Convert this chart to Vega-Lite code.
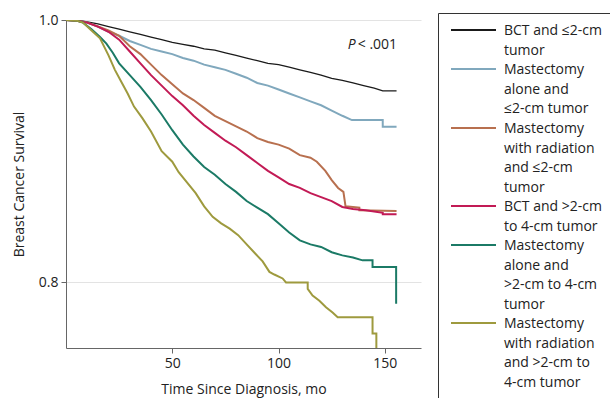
{
  "$schema": "https://vega.github.io/schema/vega-lite/v6.json",
  "width": 355,
  "height": 328,
  "autosize": "none",
  "padding": {"left": 66, "top": 20, "right": 189, "bottom": 50},
  "config": {
    "font": "Open Sans",
    "view": {"stroke": null},
    "axis": {
      "domainColor": "#666666",
      "tickColor": "#666666",
      "tickSize": 5,
      "labelFontSize": 14,
      "labelColor": "#222222",
      "titleFontSize": 14,
      "titleFontWeight": "normal",
      "titleColor": "#222222",
      "gridColor": "#e3e3e3"
    }
  },
  "datasets": {
    "curves": [
      {"t": 0, "s": 1.0, "group": "BCT and ≤2-cm tumor"},
      {"t": 5, "s": 1.0, "group": "BCT and ≤2-cm tumor"},
      {"t": 10, "s": 0.9985, "group": "BCT and ≤2-cm tumor"},
      {"t": 15, "s": 0.997, "group": "BCT and ≤2-cm tumor"},
      {"t": 20, "s": 0.995, "group": "BCT and ≤2-cm tumor"},
      {"t": 25, "s": 0.993, "group": "BCT and ≤2-cm tumor"},
      {"t": 30, "s": 0.991, "group": "BCT and ≤2-cm tumor"},
      {"t": 35, "s": 0.989, "group": "BCT and ≤2-cm tumor"},
      {"t": 40, "s": 0.987, "group": "BCT and ≤2-cm tumor"},
      {"t": 45, "s": 0.985, "group": "BCT and ≤2-cm tumor"},
      {"t": 50, "s": 0.983, "group": "BCT and ≤2-cm tumor"},
      {"t": 55, "s": 0.9815, "group": "BCT and ≤2-cm tumor"},
      {"t": 60, "s": 0.98, "group": "BCT and ≤2-cm tumor"},
      {"t": 65, "s": 0.978, "group": "BCT and ≤2-cm tumor"},
      {"t": 70, "s": 0.977, "group": "BCT and ≤2-cm tumor"},
      {"t": 75, "s": 0.975, "group": "BCT and ≤2-cm tumor"},
      {"t": 80, "s": 0.973, "group": "BCT and ≤2-cm tumor"},
      {"t": 85, "s": 0.971, "group": "BCT and ≤2-cm tumor"},
      {"t": 90, "s": 0.969, "group": "BCT and ≤2-cm tumor"},
      {"t": 95, "s": 0.967, "group": "BCT and ≤2-cm tumor"},
      {"t": 100, "s": 0.966, "group": "BCT and ≤2-cm tumor"},
      {"t": 105, "s": 0.964, "group": "BCT and ≤2-cm tumor"},
      {"t": 110, "s": 0.962, "group": "BCT and ≤2-cm tumor"},
      {"t": 115, "s": 0.96, "group": "BCT and ≤2-cm tumor"},
      {"t": 120, "s": 0.958, "group": "BCT and ≤2-cm tumor"},
      {"t": 125, "s": 0.9555, "group": "BCT and ≤2-cm tumor"},
      {"t": 130, "s": 0.954, "group": "BCT and ≤2-cm tumor"},
      {"t": 135, "s": 0.952, "group": "BCT and ≤2-cm tumor"},
      {"t": 140, "s": 0.95, "group": "BCT and ≤2-cm tumor"},
      {"t": 145, "s": 0.948, "group": "BCT and ≤2-cm tumor"},
      {"t": 149, "s": 0.946, "group": "BCT and ≤2-cm tumor"},
      {"t": 155.5, "s": 0.946, "group": "BCT and ≤2-cm tumor"},

      {"t": 0, "s": 1.0, "group": "Mastectomy alone and ≤2-cm tumor"},
      {"t": 5, "s": 0.9995, "group": "Mastectomy alone and ≤2-cm tumor"},
      {"t": 10, "s": 0.998, "group": "Mastectomy alone and ≤2-cm tumor"},
      {"t": 15, "s": 0.995, "group": "Mastectomy alone and ≤2-cm tumor"},
      {"t": 20, "s": 0.991, "group": "Mastectomy alone and ≤2-cm tumor"},
      {"t": 25, "s": 0.988, "group": "Mastectomy alone and ≤2-cm tumor"},
      {"t": 30, "s": 0.984, "group": "Mastectomy alone and ≤2-cm tumor"},
      {"t": 35, "s": 0.981, "group": "Mastectomy alone and ≤2-cm tumor"},
      {"t": 40, "s": 0.978, "group": "Mastectomy alone and ≤2-cm tumor"},
      {"t": 45, "s": 0.976, "group": "Mastectomy alone and ≤2-cm tumor"},
      {"t": 50, "s": 0.974, "group": "Mastectomy alone and ≤2-cm tumor"},
      {"t": 55, "s": 0.971, "group": "Mastectomy alone and ≤2-cm tumor"},
      {"t": 60, "s": 0.969, "group": "Mastectomy alone and ≤2-cm tumor"},
      {"t": 65, "s": 0.966, "group": "Mastectomy alone and ≤2-cm tumor"},
      {"t": 70, "s": 0.964, "group": "Mastectomy alone and ≤2-cm tumor"},
      {"t": 75, "s": 0.962, "group": "Mastectomy alone and ≤2-cm tumor"},
      {"t": 80, "s": 0.959, "group": "Mastectomy alone and ≤2-cm tumor"},
      {"t": 85, "s": 0.956, "group": "Mastectomy alone and ≤2-cm tumor"},
      {"t": 90, "s": 0.952, "group": "Mastectomy alone and ≤2-cm tumor"},
      {"t": 95, "s": 0.95, "group": "Mastectomy alone and ≤2-cm tumor"},
      {"t": 100, "s": 0.947, "group": "Mastectomy alone and ≤2-cm tumor"},
      {"t": 105, "s": 0.944, "group": "Mastectomy alone and ≤2-cm tumor"},
      {"t": 110, "s": 0.941, "group": "Mastectomy alone and ≤2-cm tumor"},
      {"t": 115, "s": 0.938, "group": "Mastectomy alone and ≤2-cm tumor"},
      {"t": 120, "s": 0.935, "group": "Mastectomy alone and ≤2-cm tumor"},
      {"t": 125, "s": 0.931, "group": "Mastectomy alone and ≤2-cm tumor"},
      {"t": 130, "s": 0.927, "group": "Mastectomy alone and ≤2-cm tumor"},
      {"t": 134.5, "s": 0.9237, "group": "Mastectomy alone and ≤2-cm tumor"},
      {"t": 149, "s": 0.9237, "group": "Mastectomy alone and ≤2-cm tumor"},
      {"t": 149.01, "s": 0.9186, "group": "Mastectomy alone and ≤2-cm tumor"},
      {"t": 155.5, "s": 0.9186, "group": "Mastectomy alone and ≤2-cm tumor"},

      {"t": 0, "s": 1.0, "group": "Mastectomy with radiation and ≤2-cm tumor"},
      {"t": 5, "s": 0.9995, "group": "Mastectomy with radiation and ≤2-cm tumor"},
      {"t": 10, "s": 0.998, "group": "Mastectomy with radiation and ≤2-cm tumor"},
      {"t": 15, "s": 0.995, "group": "Mastectomy with radiation and ≤2-cm tumor"},
      {"t": 20, "s": 0.992, "group": "Mastectomy with radiation and ≤2-cm tumor"},
      {"t": 25, "s": 0.988, "group": "Mastectomy with radiation and ≤2-cm tumor"},
      {"t": 30, "s": 0.98, "group": "Mastectomy with radiation and ≤2-cm tumor"},
      {"t": 35, "s": 0.974, "group": "Mastectomy with radiation and ≤2-cm tumor"},
      {"t": 40, "s": 0.966, "group": "Mastectomy with radiation and ≤2-cm tumor"},
      {"t": 45, "s": 0.958, "group": "Mastectomy with radiation and ≤2-cm tumor"},
      {"t": 50, "s": 0.951, "group": "Mastectomy with radiation and ≤2-cm tumor"},
      {"t": 55, "s": 0.944, "group": "Mastectomy with radiation and ≤2-cm tumor"},
      {"t": 60, "s": 0.939, "group": "Mastectomy with radiation and ≤2-cm tumor"},
      {"t": 65, "s": 0.933, "group": "Mastectomy with radiation and ≤2-cm tumor"},
      {"t": 70, "s": 0.927, "group": "Mastectomy with radiation and ≤2-cm tumor"},
      {"t": 75, "s": 0.923, "group": "Mastectomy with radiation and ≤2-cm tumor"},
      {"t": 80, "s": 0.919, "group": "Mastectomy with radiation and ≤2-cm tumor"},
      {"t": 85, "s": 0.915, "group": "Mastectomy with radiation and ≤2-cm tumor"},
      {"t": 90, "s": 0.91, "group": "Mastectomy with radiation and ≤2-cm tumor"},
      {"t": 95, "s": 0.907, "group": "Mastectomy with radiation and ≤2-cm tumor"},
      {"t": 100, "s": 0.905, "group": "Mastectomy with radiation and ≤2-cm tumor"},
      {"t": 105, "s": 0.902, "group": "Mastectomy with radiation and ≤2-cm tumor"},
      {"t": 110, "s": 0.897, "group": "Mastectomy with radiation and ≤2-cm tumor"},
      {"t": 115, "s": 0.895, "group": "Mastectomy with radiation and ≤2-cm tumor"},
      {"t": 118, "s": 0.892, "group": "Mastectomy with radiation and ≤2-cm tumor"},
      {"t": 122, "s": 0.885, "group": "Mastectomy with radiation and ≤2-cm tumor"},
      {"t": 125, "s": 0.878, "group": "Mastectomy with radiation and ≤2-cm tumor"},
      {"t": 128, "s": 0.872, "group": "Mastectomy with radiation and ≤2-cm tumor"},
      {"t": 130.5, "s": 0.869, "group": "Mastectomy with radiation and ≤2-cm tumor"},
      {"t": 131.5, "s": 0.858, "group": "Mastectomy with radiation and ≤2-cm tumor"},
      {"t": 138, "s": 0.857, "group": "Mastectomy with radiation and ≤2-cm tumor"},
      {"t": 138.01, "s": 0.855, "group": "Mastectomy with radiation and ≤2-cm tumor"},
      {"t": 155.5, "s": 0.8545, "group": "Mastectomy with radiation and ≤2-cm tumor"},

      {"t": 0, "s": 1.0, "group": "BCT and >2-cm to 4-cm tumor"},
      {"t": 5, "s": 0.9995, "group": "BCT and >2-cm to 4-cm tumor"},
      {"t": 10, "s": 0.998, "group": "BCT and >2-cm to 4-cm tumor"},
      {"t": 15, "s": 0.995, "group": "BCT and >2-cm to 4-cm tumor"},
      {"t": 20, "s": 0.991, "group": "BCT and >2-cm to 4-cm tumor"},
      {"t": 25, "s": 0.985, "group": "BCT and >2-cm to 4-cm tumor"},
      {"t": 30, "s": 0.976, "group": "BCT and >2-cm to 4-cm tumor"},
      {"t": 35, "s": 0.967, "group": "BCT and >2-cm to 4-cm tumor"},
      {"t": 40, "s": 0.958, "group": "BCT and >2-cm to 4-cm tumor"},
      {"t": 45, "s": 0.95, "group": "BCT and >2-cm to 4-cm tumor"},
      {"t": 50, "s": 0.942, "group": "BCT and >2-cm to 4-cm tumor"},
      {"t": 55, "s": 0.935, "group": "BCT and >2-cm to 4-cm tumor"},
      {"t": 60, "s": 0.927, "group": "BCT and >2-cm to 4-cm tumor"},
      {"t": 65, "s": 0.92, "group": "BCT and >2-cm to 4-cm tumor"},
      {"t": 70, "s": 0.914, "group": "BCT and >2-cm to 4-cm tumor"},
      {"t": 75, "s": 0.908, "group": "BCT and >2-cm to 4-cm tumor"},
      {"t": 80, "s": 0.903, "group": "BCT and >2-cm to 4-cm tumor"},
      {"t": 85, "s": 0.897, "group": "BCT and >2-cm to 4-cm tumor"},
      {"t": 90, "s": 0.891, "group": "BCT and >2-cm to 4-cm tumor"},
      {"t": 95, "s": 0.885, "group": "BCT and >2-cm to 4-cm tumor"},
      {"t": 100, "s": 0.88, "group": "BCT and >2-cm to 4-cm tumor"},
      {"t": 105, "s": 0.875, "group": "BCT and >2-cm to 4-cm tumor"},
      {"t": 110, "s": 0.872, "group": "BCT and >2-cm to 4-cm tumor"},
      {"t": 115, "s": 0.868, "group": "BCT and >2-cm to 4-cm tumor"},
      {"t": 120, "s": 0.865, "group": "BCT and >2-cm to 4-cm tumor"},
      {"t": 125, "s": 0.862, "group": "BCT and >2-cm to 4-cm tumor"},
      {"t": 130, "s": 0.8575, "group": "BCT and >2-cm to 4-cm tumor"},
      {"t": 135, "s": 0.856, "group": "BCT and >2-cm to 4-cm tumor"},
      {"t": 141, "s": 0.855, "group": "BCT and >2-cm to 4-cm tumor"},
      {"t": 149, "s": 0.853, "group": "BCT and >2-cm to 4-cm tumor"},
      {"t": 149.01, "s": 0.852, "group": "BCT and >2-cm to 4-cm tumor"},
      {"t": 155.5, "s": 0.852, "group": "BCT and >2-cm to 4-cm tumor"},

      {"t": 0, "s": 1.0, "group": "Mastectomy alone and >2-cm to 4-cm tumor"},
      {"t": 5, "s": 0.9995, "group": "Mastectomy alone and >2-cm to 4-cm tumor"},
      {"t": 8, "s": 0.998, "group": "Mastectomy alone and >2-cm to 4-cm tumor"},
      {"t": 12, "s": 0.993, "group": "Mastectomy alone and >2-cm to 4-cm tumor"},
      {"t": 16, "s": 0.987, "group": "Mastectomy alone and >2-cm to 4-cm tumor"},
      {"t": 19, "s": 0.982, "group": "Mastectomy alone and >2-cm to 4-cm tumor"},
      {"t": 22, "s": 0.975, "group": "Mastectomy alone and >2-cm to 4-cm tumor"},
      {"t": 25, "s": 0.967, "group": "Mastectomy alone and >2-cm to 4-cm tumor"},
      {"t": 30, "s": 0.958, "group": "Mastectomy alone and >2-cm to 4-cm tumor"},
      {"t": 35, "s": 0.949, "group": "Mastectomy alone and >2-cm to 4-cm tumor"},
      {"t": 40, "s": 0.939, "group": "Mastectomy alone and >2-cm to 4-cm tumor"},
      {"t": 45, "s": 0.928, "group": "Mastectomy alone and >2-cm to 4-cm tumor"},
      {"t": 50, "s": 0.916, "group": "Mastectomy alone and >2-cm to 4-cm tumor"},
      {"t": 55, "s": 0.905, "group": "Mastectomy alone and >2-cm to 4-cm tumor"},
      {"t": 60, "s": 0.896, "group": "Mastectomy alone and >2-cm to 4-cm tumor"},
      {"t": 65, "s": 0.888, "group": "Mastectomy alone and >2-cm to 4-cm tumor"},
      {"t": 70, "s": 0.882, "group": "Mastectomy alone and >2-cm to 4-cm tumor"},
      {"t": 75, "s": 0.875, "group": "Mastectomy alone and >2-cm to 4-cm tumor"},
      {"t": 80, "s": 0.869, "group": "Mastectomy alone and >2-cm to 4-cm tumor"},
      {"t": 85, "s": 0.862, "group": "Mastectomy alone and >2-cm to 4-cm tumor"},
      {"t": 90, "s": 0.857, "group": "Mastectomy alone and >2-cm to 4-cm tumor"},
      {"t": 95, "s": 0.852, "group": "Mastectomy alone and >2-cm to 4-cm tumor"},
      {"t": 100, "s": 0.845, "group": "Mastectomy alone and >2-cm to 4-cm tumor"},
      {"t": 105, "s": 0.838, "group": "Mastectomy alone and >2-cm to 4-cm tumor"},
      {"t": 110, "s": 0.832, "group": "Mastectomy alone and >2-cm to 4-cm tumor"},
      {"t": 115, "s": 0.829, "group": "Mastectomy alone and >2-cm to 4-cm tumor"},
      {"t": 120, "s": 0.827, "group": "Mastectomy alone and >2-cm to 4-cm tumor"},
      {"t": 125, "s": 0.823, "group": "Mastectomy alone and >2-cm to 4-cm tumor"},
      {"t": 130, "s": 0.8206, "group": "Mastectomy alone and >2-cm to 4-cm tumor"},
      {"t": 135, "s": 0.819, "group": "Mastectomy alone and >2-cm to 4-cm tumor"},
      {"t": 139.5, "s": 0.8168, "group": "Mastectomy alone and >2-cm to 4-cm tumor"},
      {"t": 144.2, "s": 0.8168, "group": "Mastectomy alone and >2-cm to 4-cm tumor"},
      {"t": 144.21, "s": 0.8117, "group": "Mastectomy alone and >2-cm to 4-cm tumor"},
      {"t": 155.3, "s": 0.8117, "group": "Mastectomy alone and >2-cm to 4-cm tumor"},
      {"t": 155.31, "s": 0.7837, "group": "Mastectomy alone and >2-cm to 4-cm tumor"},

      {"t": 0, "s": 1.0, "group": "Mastectomy with radiation and >2-cm to 4-cm tumor"},
      {"t": 5, "s": 0.9995, "group": "Mastectomy with radiation and >2-cm to 4-cm tumor"},
      {"t": 8, "s": 0.998, "group": "Mastectomy with radiation and >2-cm to 4-cm tumor"},
      {"t": 12, "s": 0.992, "group": "Mastectomy with radiation and >2-cm to 4-cm tumor"},
      {"t": 16, "s": 0.986, "group": "Mastectomy with radiation and >2-cm to 4-cm tumor"},
      {"t": 20, "s": 0.973, "group": "Mastectomy with radiation and >2-cm to 4-cm tumor"},
      {"t": 23, "s": 0.962, "group": "Mastectomy with radiation and >2-cm to 4-cm tumor"},
      {"t": 26, "s": 0.953, "group": "Mastectomy with radiation and >2-cm to 4-cm tumor"},
      {"t": 29, "s": 0.944, "group": "Mastectomy with radiation and >2-cm to 4-cm tumor"},
      {"t": 32, "s": 0.934, "group": "Mastectomy with radiation and >2-cm to 4-cm tumor"},
      {"t": 36, "s": 0.925, "group": "Mastectomy with radiation and >2-cm to 4-cm tumor"},
      {"t": 40, "s": 0.915, "group": "Mastectomy with radiation and >2-cm to 4-cm tumor"},
      {"t": 45, "s": 0.9, "group": "Mastectomy with radiation and >2-cm to 4-cm tumor"},
      {"t": 50, "s": 0.892, "group": "Mastectomy with radiation and >2-cm to 4-cm tumor"},
      {"t": 53, "s": 0.884, "group": "Mastectomy with radiation and >2-cm to 4-cm tumor"},
      {"t": 57, "s": 0.876, "group": "Mastectomy with radiation and >2-cm to 4-cm tumor"},
      {"t": 61, "s": 0.868, "group": "Mastectomy with radiation and >2-cm to 4-cm tumor"},
      {"t": 65, "s": 0.858, "group": "Mastectomy with radiation and >2-cm to 4-cm tumor"},
      {"t": 69, "s": 0.85, "group": "Mastectomy with radiation and >2-cm to 4-cm tumor"},
      {"t": 73, "s": 0.845, "group": "Mastectomy with radiation and >2-cm to 4-cm tumor"},
      {"t": 77, "s": 0.841, "group": "Mastectomy with radiation and >2-cm to 4-cm tumor"},
      {"t": 81, "s": 0.836, "group": "Mastectomy with radiation and >2-cm to 4-cm tumor"},
      {"t": 85, "s": 0.829, "group": "Mastectomy with radiation and >2-cm to 4-cm tumor"},
      {"t": 89, "s": 0.822, "group": "Mastectomy with radiation and >2-cm to 4-cm tumor"},
      {"t": 92.5, "s": 0.816, "group": "Mastectomy with radiation and >2-cm to 4-cm tumor"},
      {"t": 95.7, "s": 0.808, "group": "Mastectomy with radiation and >2-cm to 4-cm tumor"},
      {"t": 98, "s": 0.806, "group": "Mastectomy with radiation and >2-cm to 4-cm tumor"},
      {"t": 101.9, "s": 0.803, "group": "Mastectomy with radiation and >2-cm to 4-cm tumor"},
      {"t": 103.5, "s": 0.8, "group": "Mastectomy with radiation and >2-cm to 4-cm tumor"},
      {"t": 113.7, "s": 0.8, "group": "Mastectomy with radiation and >2-cm to 4-cm tumor"},
      {"t": 113.71, "s": 0.795, "group": "Mastectomy with radiation and >2-cm to 4-cm tumor"},
      {"t": 116, "s": 0.79, "group": "Mastectomy with radiation and >2-cm to 4-cm tumor"},
      {"t": 119.2, "s": 0.786, "group": "Mastectomy with radiation and >2-cm to 4-cm tumor"},
      {"t": 122.3, "s": 0.781, "group": "Mastectomy with radiation and >2-cm to 4-cm tumor"},
      {"t": 125.4, "s": 0.777, "group": "Mastectomy with radiation and >2-cm to 4-cm tumor"},
      {"t": 127.8, "s": 0.7735, "group": "Mastectomy with radiation and >2-cm to 4-cm tumor"},
      {"t": 144.2, "s": 0.7735, "group": "Mastectomy with radiation and >2-cm to 4-cm tumor"},
      {"t": 144.21, "s": 0.761, "group": "Mastectomy with radiation and >2-cm to 4-cm tumor"},
      {"t": 146, "s": 0.761, "group": "Mastectomy with radiation and >2-cm to 4-cm tumor"},
      {"t": 146.01, "s": 0.74, "group": "Mastectomy with radiation and >2-cm to 4-cm tumor"}
    ],
    "note": [
      {"t": 136.3, "s": 0.981, "p": "P", "rest": "< .001"}
    ]
  },
  "layer": [
    {
      "data": {"name": "curves"},
      "mark": {"type": "line", "interpolate": "linear", "clip": true},
      "encoding": {
        "x": {
          "field": "t", "type": "quantitative",
          "scale": {"domain": [0, 167], "nice": false, "zero": false},
          "axis": {"values": [50, 100, 150], "grid": false, "title": "Time Since Diagnosis, mo", "labelPadding": 3, "titlePadding": 12}
        },
        "y": {
          "field": "s", "type": "quantitative",
          "scale": {"domain": [0.75, 1.0], "nice": false, "zero": false},
          "axis": {"values": [0.8, 1.0], "format": ".1f", "grid": true, "title": "Breast Cancer Survival", "labelPadding": 3, "titlePadding": 12}
        },
        "color": {
          "field": "group", "type": "nominal",
          "scale": {
            "domain": ["BCT and ≤2-cm tumor", "Mastectomy alone and ≤2-cm tumor", "Mastectomy with radiation and ≤2-cm tumor", "BCT and >2-cm to 4-cm tumor", "Mastectomy alone and >2-cm to 4-cm tumor", "Mastectomy with radiation and >2-cm to 4-cm tumor"],
            "range": ["#1a1a1a", "#80a8bd", "#b8704f", "#c21a55", "#1b7a66", "#9e9a3e"]
          },
          "legend": {
            "title": null,
            "orient": "none",
            "legendX": 372,
            "legendY": -7,
            "padding": 10,
            "strokeColor": "#333333",
            "symbolType": "M-5,0H5",
            "symbolSize": 81,
            "symbolStrokeWidth": 2,
            "symbolOffset": 18.5,
            "labelFontSize": 14,
            "labelColor": "#222222",
            "labelLimit": 200,
            "labelOffset": 23.5,
            "labelBaseline": "top",
            "rowPadding": 4,
            "encoding": {
              "labels": {
                "dy": {"value": -6},
                "lineHeight": {"value": 19.6}
              }
            },
            "labelExpr": "{'BCT and ≤2-cm tumor': ['BCT and ≤2-cm', 'tumor'], 'Mastectomy alone and ≤2-cm tumor': ['Mastectomy', 'alone and', '≤2-cm tumor'], 'Mastectomy with radiation and ≤2-cm tumor': ['Mastectomy', 'with radiation', 'and ≤2-cm', 'tumor'], 'BCT and >2-cm to 4-cm tumor': ['BCT and >2-cm', 'to 4-cm tumor'], 'Mastectomy alone and >2-cm to 4-cm tumor': ['Mastectomy', 'alone and', '>2-cm to 4-cm', 'tumor'], 'Mastectomy with radiation and >2-cm to 4-cm tumor': ['Mastectomy', 'with radiation', 'and >2-cm to', '4-cm tumor']}[datum.label]"
          }
        },
        "strokeWidth": {
          "condition": {"test": "datum.group === 'BCT and ≤2-cm tumor'", "value": 1.3},
          "value": 2
        }
      }
    },
    {
      "data": {"name": "note"},
      "mark": {"type": "text", "align": "right", "fontStyle": "italic", "fontSize": 14, "color": "#222222", "baseline": "middle"},
      "encoding": {
        "x": {"field": "t", "type": "quantitative"},
        "y": {"field": "s", "type": "quantitative"},
        "text": {"field": "p"}
      }
    },
    {
      "data": {"name": "note"},
      "mark": {"type": "text", "align": "left", "dx": 2, "fontSize": 14, "color": "#222222", "baseline": "middle"},
      "encoding": {
        "x": {"field": "t", "type": "quantitative"},
        "y": {"field": "s", "type": "quantitative"},
        "text": {"field": "rest"}
      }
    }
  ]
}
